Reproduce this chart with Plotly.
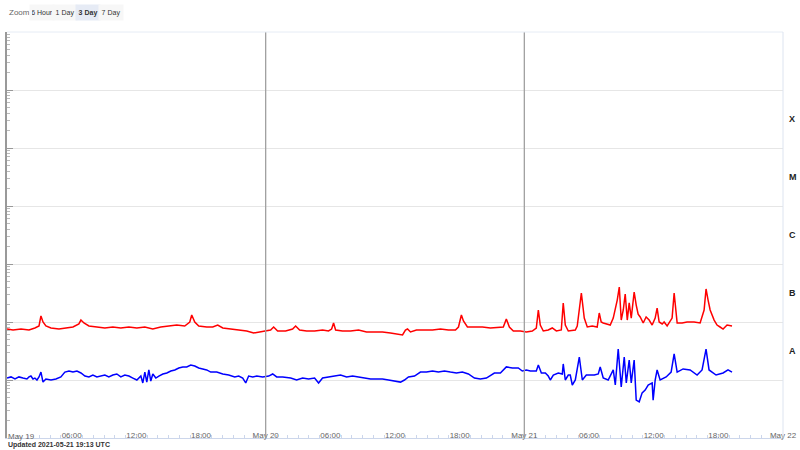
import datetime as dt
import plotly.graph_objects as go

# ---------------- data ----------------
start = dt.datetime(2021, 5, 19, 0, 0)

# long channel 0.1-0.8 nm : hours since 2021-05-19 00:00 UTC, flux in 1e-8 W/m^2
long_hours = [0.00,0.56,1.30,2.04,2.59,2.97,3.15,3.34,3.61,4.08,
              4.82,5.56,6.12,6.67,6.86,7.14,7.60,8.34,9.08,9.82,
              10.56,11.31,12.05,12.79,13.53,14.27,15.01,15.75,16.49,16.96,
              17.14,17.42,17.79,18.53,19.09,19.55,20.02,20.76,21.50,22.24,
              22.89,23.54,24.09,24.46,24.74,25.11,25.85,26.50,26.78,27.15,
              27.80,28.54,29.28,29.83,30.12,30.30,30.49,31.13,31.88,32.62,
              33.36,34.10,34.84,35.58,36.32,36.70,36.97,37.16,37.44,37.99,
              38.73,39.48,40.22,40.96,41.61,41.89,42.16,42.35,42.72,43.37,
              44.11,44.85,45.59,46.05,46.33,46.61,46.98,47.63,48.19,48.74,
              49.11,49.30,49.48,49.76,50.22,50.59,50.97,51.43,51.61,51.80,
              52.08,52.54,52.73,52.91,53.29,53.56,53.84,54.30,54.76,54.95,
              55.13,55.32,55.69,55.97,56.25,56.44,56.62,56.81,56.99,57.18,
              57.36,57.55,57.73,57.92,58.19,58.38,58.56,58.75,59.03,59.30,
              59.58,59.86,60.14,60.32,60.51,60.79,60.97,61.25,61.43,61.71,
              61.90,62.08,62.18,62.64,63.10,63.75,64.31,64.68,64.86,65.05,
              65.24,65.61,65.88,66.16,66.44,66.81,67.08,67.27]
long_flux = [7.57,7.28,7.57,7.28,7.88,8.54,12.7,10.0,8.54,7.88,
             7.57,7.88,8.20,9.25,10.8,9.61,8.54,8.20,7.88,8.20,
             7.88,8.20,7.88,8.20,7.57,8.20,8.54,8.87,8.54,10.0,
             13.2,10.0,8.54,8.20,8.20,8.87,7.88,7.57,7.28,7.00,
             6.46,6.73,7.00,7.28,8.20,7.00,7.00,7.57,8.54,7.28,
             7.00,7.00,7.28,7.00,7.57,9.61,7.28,7.00,7.00,7.28,
             6.73,6.73,6.73,6.46,6.21,5.97,7.28,7.57,6.73,7.28,
             7.28,7.28,7.57,7.28,7.28,8.20,13.2,10.4,8.20,8.20,
             8.20,7.88,8.20,8.20,11.3,8.20,7.00,7.00,6.73,7.00,
             7.88,16.1,8.87,7.00,7.28,7.88,7.00,7.28,21.3,8.87,
             7.00,7.28,7.28,8.54,31.6,11.7,8.20,8.54,8.20,14.3,
             10.0,9.61,9.25,8.87,11.7,16.1,23.9,40.1,10.8,16.1,
             30.4,10.8,21.3,11.7,32.9,19.6,13.7,12.2,9.61,12.2,
             10.8,8.87,11.7,17.4,10.0,9.25,10.0,8.54,9.61,11.7,
             31.6,11.7,9.61,9.61,10.0,10.0,9.61,16.1,37.1,23.9,
             16.1,10.8,8.87,8.20,7.57,8.87,8.54,8.54]

# short channel 0.05-0.4 nm
short_hours = [0.00,0.37,0.74,1.11,1.48,1.85,2.04,2.22,2.41,2.59,
               2.78,2.97,3.15,3.34,3.61,4.08,4.54,5.00,5.37,5.75,
               6.12,6.49,6.86,7.23,7.60,7.97,8.34,8.71,9.08,9.45,
               9.82,10.19,10.56,10.93,11.31,11.68,12.05,12.42,12.60,12.79,
               12.97,13.16,13.34,13.53,13.81,14.09,14.46,14.83,15.20,15.57,
               15.94,16.31,16.68,17.05,17.42,17.79,18.16,18.53,18.90,19.46,
               20.02,20.57,21.13,21.50,21.87,22.15,22.42,22.80,23.17,23.72,
               24.28,24.65,25.02,25.58,26.32,26.87,27.43,27.98,28.54,28.91,
               29.28,29.84,30.39,30.95,31.51,32.06,32.62,33.17,33.73,34.29,
               34.84,35.40,35.95,36.51,36.88,37.25,37.81,38.36,38.92,39.48,
               40.03,40.59,41.14,41.70,42.25,42.81,43.37,43.92,44.48,45.22,
               45.78,46.33,46.89,47.44,47.81,48.19,48.56,49.11,49.30,49.58,
               49.95,50.22,50.41,50.69,51.15,51.52,51.61,51.80,52.08,52.26,
               52.45,52.73,53.10,53.38,53.75,54.12,54.49,54.86,55.04,55.32,
               55.78,56.25,56.44,56.71,56.99,57.27,57.46,57.73,57.92,58.19,
               58.38,58.66,58.93,59.21,59.49,59.86,59.95,60.14,60.32,60.60,
               61.16,61.62,61.90,62.18,62.73,63.38,64.03,64.49,64.86,65.14,
               65.79,66.44,66.90,67.27]
short_flux = [1.08,1.13,1.04,1.13,1.08,1.04,1.13,1.17,1.04,1.08,
              1.00,1.13,1.37,0.92,1.04,1.00,1.04,1.13,1.37,1.43,
              1.37,1.43,1.32,1.17,1.13,1.22,1.13,1.17,1.22,1.13,
              1.22,1.27,1.13,1.22,1.17,1.08,1.00,1.17,0.89,1.37,
              0.92,1.49,0.96,1.27,1.08,1.17,1.27,1.32,1.43,1.49,
              1.61,1.68,1.68,1.81,1.74,1.61,1.55,1.49,1.37,1.37,
              1.27,1.22,1.13,1.17,1.08,0.89,1.17,1.13,1.17,1.13,
              1.17,1.27,1.13,1.13,1.08,1.00,1.08,1.04,1.08,0.89,
              1.08,1.13,1.17,1.22,1.13,1.17,1.13,1.08,1.04,1.04,
              1.04,1.00,0.96,0.92,1.00,1.13,1.17,1.37,1.37,1.43,
              1.37,1.43,1.37,1.32,1.37,1.27,1.08,1.04,1.08,1.32,
              1.32,1.68,1.61,1.61,1.43,1.49,1.43,1.43,1.81,1.32,
              1.32,1.17,1.00,1.22,1.32,1.27,1.89,1.00,1.22,1.22,
              0.82,1.00,2.49,1.00,1.22,1.22,1.22,1.27,1.68,1.08,
              1.00,1.49,0.82,3.42,0.76,2.49,0.89,2.21,0.89,2.21,
              0.45,0.42,0.60,0.67,0.82,0.89,0.45,1.00,1.49,1.00,
              1.13,1.37,2.81,1.37,1.55,1.49,1.22,1.49,3.42,1.49,
              1.22,1.32,1.49,1.37]

flux_unit = 1e-8
tick_hours = [0, 6, 12, 18, 24, 30, 36, 42, 48, 54, 60, 66, 72]
tick_text = ["", "06:00", "12:00", "18:00", "May 20", "06:00", "12:00", "18:00",
             "May 21", "06:00", "12:00", "18:00", "May 22"]
class_labels = ["X", "M", "C", "B", "A"]
class_mid_log = [-3.5, -4.5, -5.5, -6.5, -7.5]
day_lines_hours = [24, 48]
zoom_buttons = ["6 Hour", "1 Day", "3 Day", "7 Day"]
selected_button = "3 Day"
updated_text = "Updated 2021-05-21 19:13 UTC"

# ---------------- build ----------------
def to_time(h):
    return start + dt.timedelta(hours=h)

n_l = min(len(long_hours), len(long_flux))
n_s = min(len(short_hours), len(short_flux))

fig = go.Figure()
fig.add_trace(go.Scatter(
    x=[to_time(h) for h in long_hours[:n_l]],
    y=[v * flux_unit for v in long_flux[:n_l]],
    mode="lines", line=dict(color="#ff0000", width=1.5), name="0.1-0.8 nm"))
fig.add_trace(go.Scatter(
    x=[to_time(h) for h in short_hours[:n_s]],
    y=[v * flux_unit for v in short_flux[:n_s]],
    mode="lines", line=dict(color="#0000ff", width=1.5), name="0.05-0.4 nm"))

W, H = 800, 450
ml, mr, mt, mb = 7, 17, 32, 12
pw, ph = W - ml - mr, H - mt - mb

def px_x(page_px):
    return (page_px - ml) / pw

def px_y(page_py):
    return (H - mb - page_py) / ph

fig.update_layout(
    width=W, height=H,
    margin=dict(l=ml, r=mr, t=mt, b=mb, autoexpand=False),
    paper_bgcolor="white", plot_bgcolor="white",
    showlegend=False,
    font=dict(family="Liberation Sans, Arial, sans-serif", size=8, color="#666666"),
    xaxis=dict(
        type="date",
        range=[to_time(0), to_time(72)],
        tickmode="array",
        tickvals=[to_time(h) for h in tick_hours],
        ticktext=tick_text,
        ticklabelposition="inside",
        ticklabeloverflow="allow",
        ticklabelstandoff=-3,
        ticks="inside", ticklen=0,
        tickfont=dict(size=8, color="#666666"),
        showgrid=False, zeroline=False, automargin=False,
        showline=True, linecolor="#ccd6eb", linewidth=1,
        minor=dict(dtick=3600000, ticks="inside", ticklen=3, tickcolor="#ccd6eb", showgrid=False),
    ),
    yaxis=dict(
        type="log",
        range=[-9, -2],
        dtick=1,
        showticklabels=False,
        ticks="inside", ticklen=6, tickcolor="#999999",
        showgrid=True, gridcolor="#e6e6e6", gridwidth=1,
        zeroline=False, automargin=False,
        showline=True, linecolor="#999999", linewidth=1.5,
        minor=dict(dtick="D1", ticks="inside", ticklen=3, tickcolor="#bbbbbb", showgrid=False),
    ),
)

# day separator lines
for h in day_lines_hours:
    fig.add_shape(type="line", xref="x", yref="paper",
                  x0=to_time(h), x1=to_time(h), y0=0, y1=1,
                  line=dict(color="#a0a0a0", width=1.3))
# top and right border
fig.add_shape(type="line", xref="paper", yref="paper", x0=0, x1=1, y0=1, y1=1,
              line=dict(color="#e6ecf5", width=1))
fig.add_shape(type="line", xref="paper", yref="paper", x0=1, x1=1, y0=0, y1=1,
              line=dict(color="#dde4f0", width=1))

# first tick label, left aligned
fig.add_annotation(x=to_time(0), y=0, xref="x", yref="paper",
                   text="May 19", showarrow=False, xanchor="left", yanchor="bottom",
                   yshift=-5, xshift=-1, font=dict(size=8, color="#666666"))

# flare class labels on the right
for lab, ly in zip(class_labels, class_mid_log):
    fig.add_annotation(x=1, y=ly, xref="paper", yref="y", text="<b>%s</b>" % lab,
                       showarrow=False, xanchor="left", xshift=4,
                       font=dict(size=9, color="#222222"))

# zoom buttons
fig.add_annotation(x=px_x(7), y=px_y(12), xref="paper", yref="paper", text="Zoom",
                   showarrow=False, xanchor="left", yanchor="middle",
                   font=dict(size=8, color="#666666"))
btn_centers = [42, 65, 88, 111]
for lab, cx in zip(zoom_buttons, btn_centers):
    sel = lab == selected_button
    fig.add_annotation(x=px_x(cx), y=px_y(12), xref="paper", yref="paper",
                       text=("<b>%s</b>" % lab) if sel else lab,
                       showarrow=False, xanchor="center", yanchor="middle",
                       width=20, height=11, borderpad=2,
                       bgcolor="#e6ebf5" if sel else "#f7f7f7",
                       font=dict(size=7, color="#333333"))

# updated stamp
fig.add_annotation(x=px_x(6), y=px_y(445), xref="paper", yref="paper",
                   text="<b>%s</b>" % updated_text, showarrow=False,
                   xanchor="left", yanchor="middle",
                   font=dict(size=7, color="#333333"))

# remove the page's default body margin so the 800x450 figure fills the window
fig.write_html("out.html",
               config={"displayModeBar": False},
               post_script="document.body.style.margin='0px';document.body.style.overflow='hidden';")
